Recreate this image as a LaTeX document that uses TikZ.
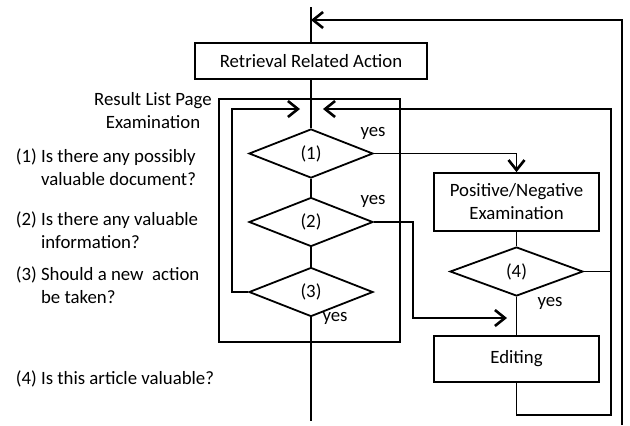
\documentclass[tikz,border=0pt]{standalone}
\usepackage{fontspec}
\setmainfont{Carlito}
\usetikzlibrary{shapes.geometric,arrows.meta}

\begin{document}
\begin{tikzpicture}%
  [x=0.5pt, y=-0.5pt,
   >={Straight Barb[length=5pt,width=8pt,line width=1.3pt]},
   line width=0.9pt,
   font=\fontsize{9.4}{11.5}\selectfont,
   box/.style={rectangle, draw, inner sep=0pt, align=center},
   dec/.style={diamond, draw, inner sep=0pt, minimum width=62pt, minimum height=24.5pt},
   yes/.style={inner sep=0pt},
   txt/.style={inner sep=0pt, anchor=west, align=left},
  ]
\useasboundingbox (0,0) rectangle (630,425);

\node[box, minimum width=116pt, minimum height=18pt] (act) at (311,61) {Retrieval Related Action};
\node[dec] (d1) at (311,153.5) {(1)};
\node[dec] (d2) at (311,222) {(2)};
\node[dec] (d3) at (311,292) {(3)};
\node[box, minimum width=82.5pt, minimum height=29pt] (pn) at (516.5,202) {Positive/Negative\\Examination};
\node[dec, minimum width=66.5pt] (d4) at (516.5,271.5) {(4)};
\node[box, minimum width=82.5pt, minimum height=23pt] (ed) at (516.5,359) {Editing};

\coordinate (top) at (311,7);
\coordinate (bot) at (311,421);
\coordinate (rb)  at (622,425);
\coordinate (in0) at (311,20);
\coordinate (in2) at (300,109);
\coordinate (in3) at (323,109);
\coordinate (in4) at (507,318);

% result list page frame
\draw (219,99) rectangle (400,342);
\node[inner sep=0pt, align=center] (rlp) at (153,111) {Result List Page\\Examination};

\node[yes] (y1) at (373,133) {yes};
\node[yes] (y2) at (373,201) {yes};
\node[yes] (y3) at (335,318) {yes};
\node[yes] (y4) at (550,303) {yes};

\node[txt] (q1) at (15,167) {(1) Is there any possibly\\\hphantom{(1) }valuable document?};
\node[txt] (q2) at (15,230) {(2) Is there any valuable\\\hphantom{(2) }information?};
\node[txt] (q3) at (15,285.5) {(3) Should a new\ \ action\\\hphantom{(3) }be taken?};
\node[txt] (q4) at (15,379) {(4) Is this article valuable?};

%   FROM                          TO
\draw (top) -- (act);
\draw (act) -- (d1);
\draw (d1) -- (d2);
\draw (d2) -- (d3);
\draw (d3) -- (bot);
\draw (pn) -- (d4);
\draw (d4) -- (ed);
\draw[->] (rb) |- (in0);
\draw[->] (d1.east) -| (pn.north);
\draw[->] (d2.east) -- ++(39,0) |- (in4);
\draw[->] (d3.west) -- ++(-16,0) |- (in2);
\draw[->] (ed.south) -- ++(0,32) -- ++(94.5,0) |- (in3);
\draw (d4.east) -- ++(28,0);
\end{tikzpicture}
\end{document}
